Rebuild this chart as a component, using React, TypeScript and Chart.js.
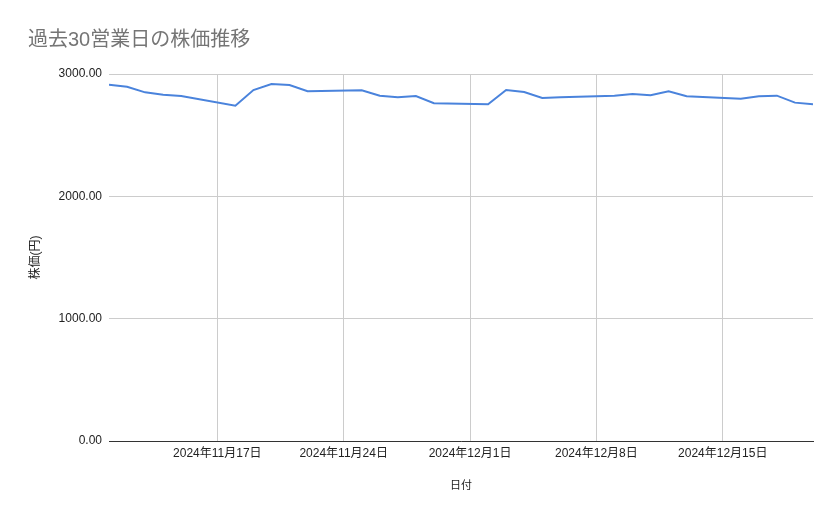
import React, { useEffect, useRef } from "react";
import { Chart, registerables } from "chart.js";

Chart.register(...registerables);

const chartTitle = "過去30営業日の株価推移";
const xAxisTitle = "日付";
const yAxisTitle = "株価(円)";

const rangeStart = "2024-11-11";
const rangeEnd = "2024-12-20";

const dates = [
  "2024-11-11", "2024-11-12", "2024-11-13", "2024-11-14", "2024-11-15",
  "2024-11-18", "2024-11-19", "2024-11-20", "2024-11-21", "2024-11-22",
  "2024-11-25", "2024-11-26", "2024-11-27", "2024-11-28", "2024-11-29",
  "2024-12-02", "2024-12-03", "2024-12-04", "2024-12-05", "2024-12-06",
  "2024-12-09", "2024-12-10", "2024-12-11", "2024-12-12", "2024-12-13",
  "2024-12-16", "2024-12-17", "2024-12-18", "2024-12-19", "2024-12-20",
];

const prices = [
  2913, 2896, 2850, 2831, 2820,
  2741, 2869, 2918, 2910, 2859,
  2867, 2823, 2810, 2820, 2761,
  2752, 2869, 2853, 2804, 2810,
  2823, 2837, 2826, 2859, 2818,
  2798, 2818, 2823, 2766, 2752,
];

const xTickDates = ["2024-11-17", "2024-11-24", "2024-12-01", "2024-12-08", "2024-12-15"];
const xTickLabels = ["2024年11月17日", "2024年11月24日", "2024年12月1日", "2024年12月8日", "2024年12月15日"];

const yTicks = [0, 1000, 2000, 3000];
const yTickLabels = ["0.00", "1000.00", "2000.00", "3000.00"];

const FONT = "'Liberation Sans', Arial, 'Noto Sans CJK JP', sans-serif";

function dayIndex(d: string): number {
  const [y, m, dd] = d.split("-").map(Number);
  const [y0, m0, d0] = rangeStart.split("-").map(Number);
  return Math.round((Date.UTC(y, m - 1, dd) - Date.UTC(y0, m0 - 1, d0)) / 86400000);
}

export default function App() {
  const ref = useRef<HTMLCanvasElement | null>(null);

  useEffect(() => {
    if (!ref.current) return;
    const tickPositions = xTickDates.map(dayIndex);
    const chart = new Chart(ref.current, {
      type: "line",
      data: {
        datasets: [
          {
            data: dates.map((d, i) => ({ x: dayIndex(d), y: prices[i] })),
            borderColor: "#4a83dc",
            backgroundColor: "#4a83dc",
            borderWidth: 2,
            pointRadius: 0,
            tension: 0,
          },
        ],
      },
      options: {
        animation: false,
        responsive: true,
        maintainAspectRatio: false,
        layout: { padding: { left: 28, right: 26, top: 0, bottom: 0 } },
        plugins: {
          legend: { display: false },
          tooltip: { enabled: false },
          title: {
            display: true,
            text: chartTitle,
            align: "start",
            color: "#757575",
            font: { family: FONT, size: 20, weight: "normal" },
            padding: { top: 28, bottom: 22 } as any,
            fullSize: true,
          },
        },
        scales: {
          x: {
            type: "linear",
            min: dayIndex(rangeStart),
            max: dayIndex(rangeEnd),
            afterBuildTicks: (scale: any) => {
              scale.ticks = tickPositions.map((v) => ({ value: v }));
            },
            afterFit: (scale: any) => {
              scale.height = 78;
            },
            ticks: {
              autoSkip: false,
              maxRotation: 0,
              padding: 5,
              color: "#222222",
              font: { family: FONT, size: 12 },
              callback: (value: any) => {
                const idx = tickPositions.indexOf(Number(value));
                return idx >= 0 ? xTickLabels[idx] : "";
              },
            },
            grid: { color: "#cccccc", drawTicks: false, lineWidth: 1 },
            border: { display: true, color: "#333333", width: 1 },
            title: {
              display: true,
              text: xAxisTitle,
              color: "#222222",
              font: { family: FONT, size: 11 },
              padding: { top: 0, bottom: 26.4 },
            },
          },
          y: {
            type: "linear",
            min: 0,
            max: 3000,
            afterBuildTicks: (scale: any) => {
              scale.ticks = yTicks.map((v) => ({ value: v }));
            },
            afterFit: (scale: any) => {
              scale.width = 81;
            },
            ticks: {
              padding: 7,
              color: "#222222",
              font: { family: FONT, size: 12 },
              callback: (value: any) => {
                const idx = yTicks.indexOf(Number(value));
                return idx >= 0 ? yTickLabels[idx] : "";
              },
            },
            grid: { color: "#cccccc", drawTicks: false, lineWidth: 1 },
            border: { display: false },
            title: {
              display: true,
              text: yAxisTitle,
              color: "#222222",
              font: { family: FONT, size: 12 },
              padding: { top: 0, bottom: 0 },
            },
          },
        },
      },
    });
    return () => chart.destroy();
  }, []);

  return (
    <div style={{ position: "fixed", left: 0, top: 0, width: 839, height: 519, background: "#ffffff" }}>
      <canvas ref={ref} />
    </div>
  );
}
